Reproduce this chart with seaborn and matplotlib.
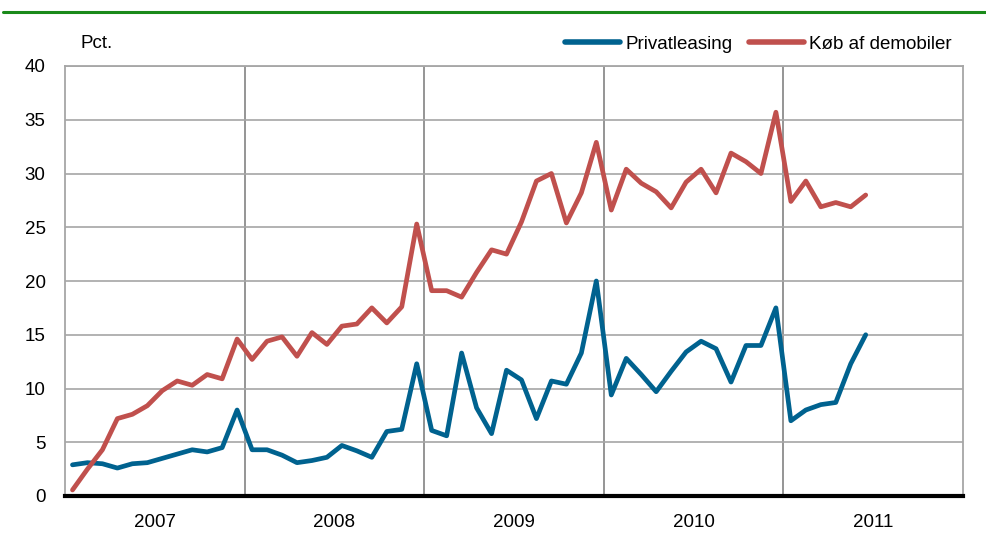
import numpy as np
import pandas as pd
import matplotlib
matplotlib.use("Agg")
import matplotlib.pyplot as plt
from matplotlib.lines import Line2D
from matplotlib import font_manager
import seaborn as sns

# ---- data (monthly, Jan 2007 - Jun 2011) ----
years = ["2007", "2008", "2009", "2010", "2011"]
privatleasing = [2.9, 3.1, 3.0, 2.6, 3.0, 3.1, 3.5, 3.9, 4.3, 4.1, 4.5, 8.0,
                 4.3, 4.3, 3.8, 3.1, 3.3, 3.6, 4.7, 4.2, 3.6, 6.0, 6.2, 12.3,
                 6.1, 5.6, 13.3, 8.2, 5.8, 11.7, 10.8, 7.2, 10.7, 10.4, 13.3, 20.0,
                 9.4, 12.8, 11.3, 9.7, 11.6, 13.4, 14.4, 13.7, 10.6, 14.0, 14.0, 17.5,
                 7.0, 8.0, 8.5, 8.7, 12.3, 15.0]
demobiler = [0.56, 2.5, 4.3, 7.2, 7.6, 8.4, 9.8, 10.7, 10.3, 11.3, 10.9, 14.6,
             12.7, 14.4, 14.8, 13.0, 15.2, 14.1, 15.8, 16.0, 17.5, 16.1, 17.6, 25.3,
             19.1, 19.1, 18.5, 20.8, 22.9, 22.5, 25.5, 29.3, 30.0, 25.4, 28.2, 32.9,
             26.6, 30.4, 29.1, 28.3, 26.8, 29.2, 30.4, 28.2, 31.9, 31.1, 30.0, 35.7,
             27.4, 29.3, 26.9, 27.3, 26.9, 28.0]
series_names = ["Privatleasing", "Køb af demobiler"]
colors = ["#00628f", "#c0504d"]

months = np.arange(len(privatleasing))
df = pd.concat([
    pd.DataFrame({"month": months, "value": privatleasing, "serie": series_names[0]}),
    pd.DataFrame({"month": months, "value": demobiler, "serie": series_names[1]}),
])

sns.set_theme(style="white")
names = {f.name for f in font_manager.fontManager.ttflist}
fams = [f for f in ["Liberation Sans Narrow", "Liberation Sans"] if f in names]
fams.append("DejaVu Sans")
fs = 13.5
plt.rcParams["font.family"] = fams
plt.rcParams["text.color"] = "black"
plt.rcParams["xtick.color"] = "black"
plt.rcParams["ytick.color"] = "black"

fig = plt.figure(figsize=(9.86, 5.36), dpi=100)
ax = fig.add_axes([65/986, 40/536, 898/986, 430/536])

sns.lineplot(data=df, x="month", y="value", hue="serie", palette=colors,
             linewidth=3.4, ax=ax, legend=False, zorder=3)

ax.set_xlim(-0.5, 59.5)
ax.set_ylim(0, 40)
ax.set_yticks(np.arange(0, 41, 5))
ax.set_yticklabels([str(v) for v in range(0, 41, 5)], fontsize=fs)
ax.grid(axis="y", color="#a6a6a6", linewidth=1.2)

# year boundaries (major) and year labels (minor)
ax.set_xticks([11.5, 23.5, 35.5, 47.5])
ax.set_xticklabels([])
ax.set_xticks([5.5 + 12*i for i in range(len(years))], minor=True)
ax.set_xticklabels(years, minor=True, fontsize=fs)
ax.grid(axis="x", which="major", color="#8c8c8c", linewidth=1.3)
ax.tick_params(axis="both", which="both", length=0, pad=13)
ax.tick_params(axis="y", pad=14)
ax.set_xlabel("")
ax.set_ylabel("")

for s in ["left", "right", "top"]:
    ax.spines[s].set_color("#a6a6a6")
    ax.spines[s].set_linewidth(1.3)
ax.spines["bottom"].set_color("black")
ax.spines["bottom"].set_linewidth(3)
ax.spines["bottom"].set_zorder(4)

fig.text(80/986, 1 - 44/536, "Pct.", fontsize=fs, va="center", ha="left")

handles = [Line2D([0], [0], color=c, lw=4, solid_capstyle="round") for c in colors]
fig.legend(handles, series_names, loc="center right",
           bbox_to_anchor=(952/986, 1 - 44/536), ncol=2, frameon=False,
           fontsize=fs, handlelength=2.9, handletextpad=0.3, columnspacing=0.9,
           borderaxespad=0, borderpad=0)

fig.add_artist(Line2D([3/986, 1], [1 - 12/536, 1 - 12/536], color="#1a8a1a", lw=2.2))

fig.savefig("out.png", dpi=100)
